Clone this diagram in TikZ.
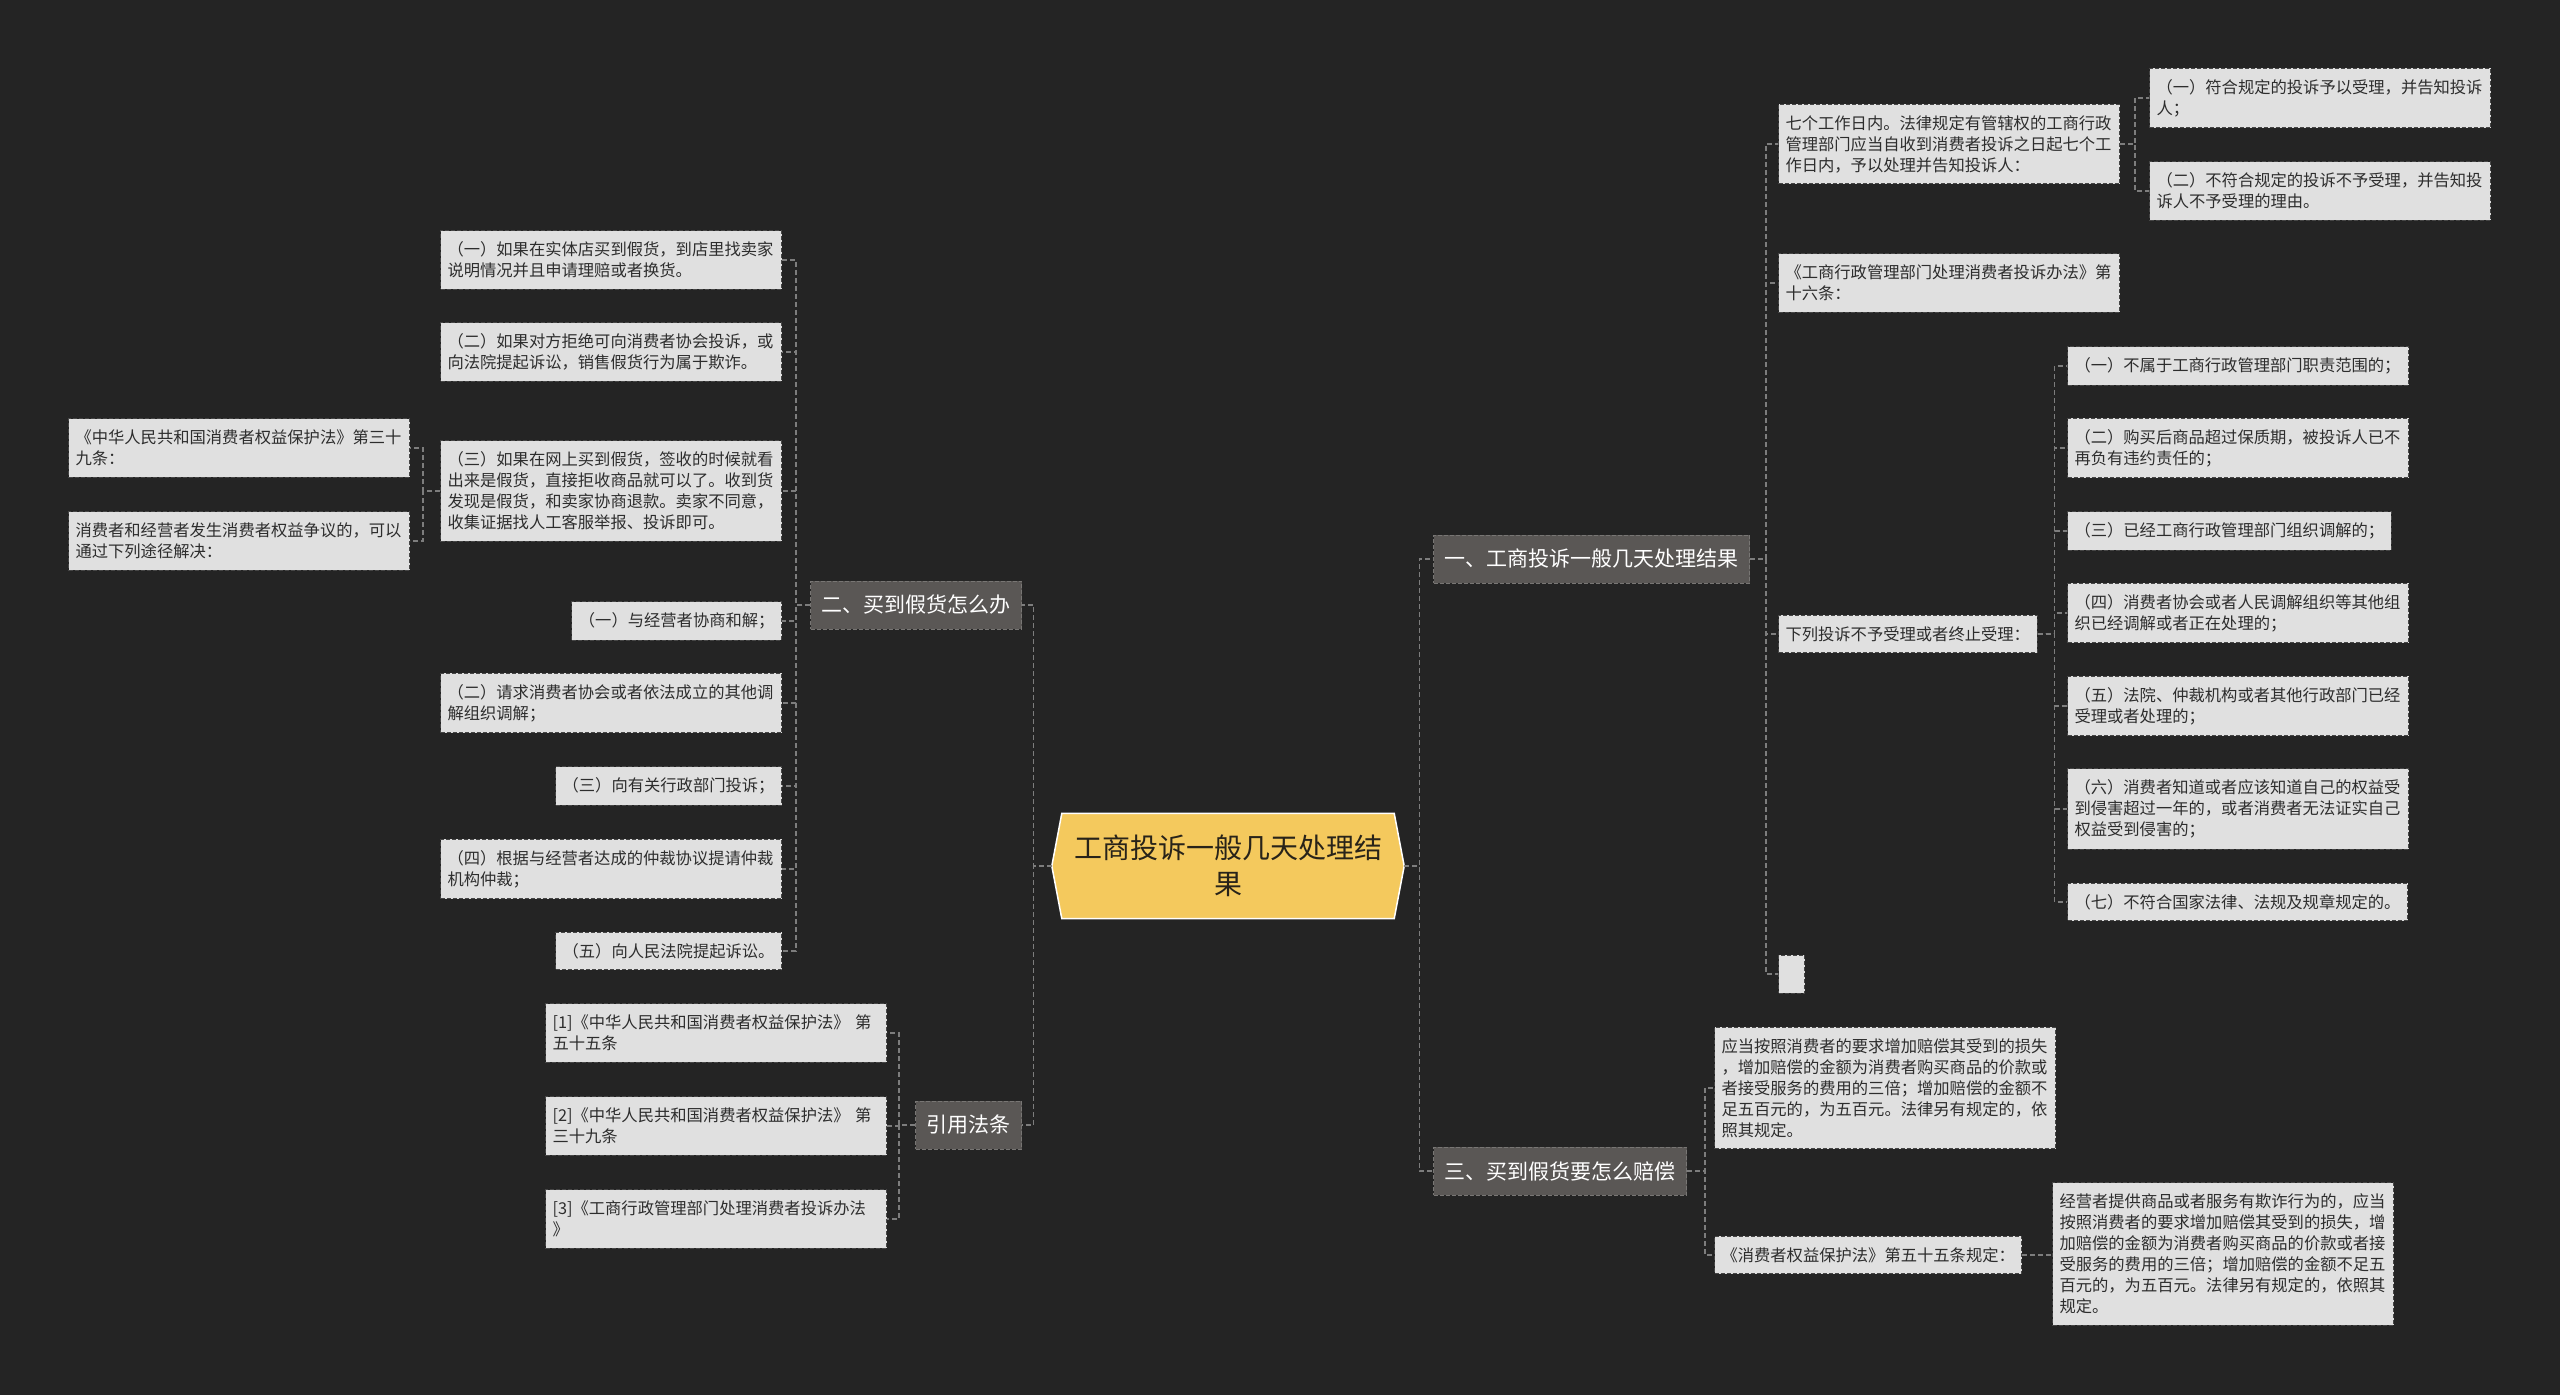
\documentclass[tikz,border=0pt]{standalone}
\usepackage{fontspec}
\setmainfont{Noto Sans CJK SC}
\usetikzlibrary{backgrounds}
\definecolor{bgc}{RGB}{36,36,36}
\definecolor{boxfill}{RGB}{224,224,224}
\definecolor{boxedge}{RGB}{70,70,70}
\definecolor{boxtext}{RGB}{45,45,45}
\definecolor{lonefill}{RGB}{90,87,85}
\definecolor{loneedge}{RGB}{120,118,116}
\definecolor{conncol}{RGB}{125,125,125}
\definecolor{hexfill}{RGB}{244,201,93}
\definecolor{roottext}{RGB}{40,35,25}
\begin{document}
\begin{tikzpicture}[x=1pt,y=-1pt,
  lbox/.style={draw=boxedge, fill=boxfill, dash pattern=on 4pt off 2pt, line width=1pt,
    text=boxtext, font=\fontsize{16.3}{21}\selectfont, inner xsep=7pt, inner ysep=11pt, align=left},
  wide/.style={text width=327pt},
  lone/.style={draw=loneedge, fill=lonefill, dash pattern=on 4pt off 2pt, line width=1pt,
    text=white, font=\fontsize{21}{26}\selectfont, inner xsep=11pt, minimum height=48pt},
  conn/.style={draw=conncol, line width=1.2pt, dash pattern=on 5pt off 3pt}
]
\useasboundingbox (0,0) rectangle (2560,1395);

% root
\node[minimum width=352pt, minimum height=105pt, inner sep=0pt, align=center,
  font=\fontsize{28}{36}\selectfont, text=roottext] (root) at (1228,866) {工商投诉一般几天处理结\\果};

% level 1
\node[lone, anchor=west] (one) at (1433,559) {一、工商投诉一般几天处理结果};
\node[lone, anchor=west] (three) at (1433,1171) {三、买到假货要怎么赔偿};
\node[lone, anchor=east] (two) at (1022,605) {二、买到假货怎么办};
\node[lone, anchor=east] (cite) at (1022,1125) {引用法条};

% branch one
\node[lbox, wide, anchor=west] (A1) at (1778,144) {七个工作日内。法律规定有管辖权的工商行政\\管理部门应当自收到消费者投诉之日起七个工\\作日内，予以处理并告知投诉人：};
\node[lbox, wide, anchor=west] (A1a) at (2149,98) {（一）符合规定的投诉予以受理，并告知投诉\\人；};
\node[lbox, wide, anchor=west] (A1b) at (2149,191) {（二）不符合规定的投诉不予受理，并告知投\\诉人不予受理的理由。};
\node[lbox, wide, anchor=west] (A2) at (1778,283) {《工商行政管理部门处理消费者投诉办法》第\\十六条：};
\node[lbox, anchor=west] (A3) at (1778,634) {下列投诉不予受理或者终止受理：};
\node[lbox, wide, anchor=west] (B1) at (2067,366) {（一）不属于工商行政管理部门职责范围的；};
\node[lbox, wide, anchor=west] (B2) at (2067,448) {（二）购买后商品超过保质期，被投诉人已不\\再负有违约责任的；};
\node[lbox, anchor=west] (B3) at (2067,531) {（三）已经工商行政管理部门组织调解的；};
\node[lbox, wide, anchor=west] (B4) at (2067,613) {（四）消费者协会或者人民调解组织等其他组\\织已经调解或者正在处理的；};
\node[lbox, wide, anchor=west] (B5) at (2067,706) {（五）法院、仲裁机构或者其他行政部门已经\\受理或者处理的；};
\node[lbox, wide, anchor=west] (B6) at (2067,809) {（六）消费者知道或者应该知道自己的权益受\\到侵害超过一年的，或者消费者无法证实自己\\权益受到侵害的；};
\node[lbox, anchor=west] (B7) at (2067,902) {（七）不符合国家法律、法规及规章规定的。};
\node[lbox, anchor=west, inner sep=0pt, minimum width=26pt, minimum height=38pt] (A4) at (1778,974) {};

% branch three
\node[lbox, wide, anchor=west] (C1) at (1714,1088) {应当按照消费者的要求增加赔偿其受到的损失\\，增加赔偿的金额为消费者购买商品的价款或\\者接受服务的费用的三倍；增加赔偿的金额不\\足五百元的，为五百元。法律另有规定的，依\\照其规定。};
\node[lbox, anchor=west] (C2) at (1714,1255) {《消费者权益保护法》第五十五条规定：};
\node[lbox, wide, anchor=west] (C2a) at (2052,1254) {经营者提供商品或者服务有欺诈行为的，应当\\按照消费者的要求增加赔偿其受到的损失，增\\加赔偿的金额为消费者购买商品的价款或者接\\受服务的费用的三倍；增加赔偿的金额不足五\\百元的，为五百元。法律另有规定的，依照其\\规定。};

% branch two
\node[lbox, wide, anchor=east] (D1) at (782,260) {（一）如果在实体店买到假货，到店里找卖家\\说明情况并且申请理赔或者换货。};
\node[lbox, wide, anchor=east] (D2) at (782,352) {（二）如果对方拒绝可向消费者协会投诉，或\\向法院提起诉讼，销售假货行为属于欺诈。};
\node[lbox, wide, anchor=east] (D3) at (782,491) {（三）如果在网上买到假货，签收的时候就看\\出来是假货，直接拒收商品就可以了。收到货\\发现是假货，和卖家协商退款。卖家不同意，\\收集证据找人工客服举报、投诉即可。};
\node[lbox, wide, anchor=east] (E1) at (410,448) {《中华人民共和国消费者权益保护法》第三十\\九条：};
\node[lbox, wide, anchor=east] (E2) at (410,541) {消费者和经营者发生消费者权益争议的，可以\\通过下列途径解决：};
\node[lbox, anchor=east] (D4) at (782,621) {（一）与经营者协商和解；};
\node[lbox, wide, anchor=east] (D5) at (782,703) {（二）请求消费者协会或者依法成立的其他调\\解组织调解；};
\node[lbox, anchor=east] (D6) at (782,786) {（三）向有关行政部门投诉；};
\node[lbox, wide, anchor=east] (D7) at (782,869) {（四）根据与经营者达成的仲裁协议提请仲裁\\机构仲裁；};
\node[lbox, anchor=east] (D8) at (782,951) {（五）向人民法院提起诉讼。};

% citations
\node[lbox, wide, anchor=east] (F1) at (887,1033) {[1]《中华人民共和国消费者权益保护法》 第\\五十五条};
\node[lbox, wide, anchor=east] (F2) at (887,1126) {[2]《中华人民共和国消费者权益保护法》 第\\三十九条};
\node[lbox, wide, anchor=east] (F3) at (887,1219) {[3]《工商行政管理部门处理消费者投诉办法\\》};

% background and hexagon
\begin{scope}[on background layer]
\fill[bgc] (0,0) rectangle (2560,1395);
\draw[draw=white, line width=1.5pt, fill=hexfill]
  (root.west) -- ([xshift=10pt]root.north west) -- ([xshift=-10pt]root.north east)
  -- (root.east) -- ([xshift=-10pt]root.south east) -- ([xshift=10pt]root.south west) -- cycle;
\end{scope}

% connectors
\foreach \c in {one,three} \draw[conn] (root.east) -- ++(15,0) |- (\c.west);
\foreach \c in {two,cite} \draw[conn] (root.west) -- ++(-18,0) |- (\c.east);
\foreach \c in {A1,A2,A3,A4} \draw[conn] (one.east) -- ++(16,0) |- (\c.west);
\foreach \c in {A1a,A1b} \draw[conn] (A1.east) -- ++(15,0) |- (\c.west);
\foreach \c in {B1,B2,B3,B4,B5,B6,B7} \draw[conn] (A3.east) -- ++(17,0) |- (\c.west);
\foreach \c in {C1,C2} \draw[conn] (three.east) -- ++(18,0) |- (\c.west);
\draw[conn] (C2.east) -- (C2.east -| C2a.west);
\foreach \c in {D1,D2,D3,D4,D5,D6,D7,D8} \draw[conn] (two.west) -- ++(-14,0) |- (\c.east);
\foreach \c in {E1,E2} \draw[conn] (D3.west) -- ++(-17,0) |- (\c.east);
\foreach \c in {F1,F2,F3} \draw[conn] (cite.west) -- ++(-16,0) |- (\c.east);
\end{tikzpicture}
\end{document}
